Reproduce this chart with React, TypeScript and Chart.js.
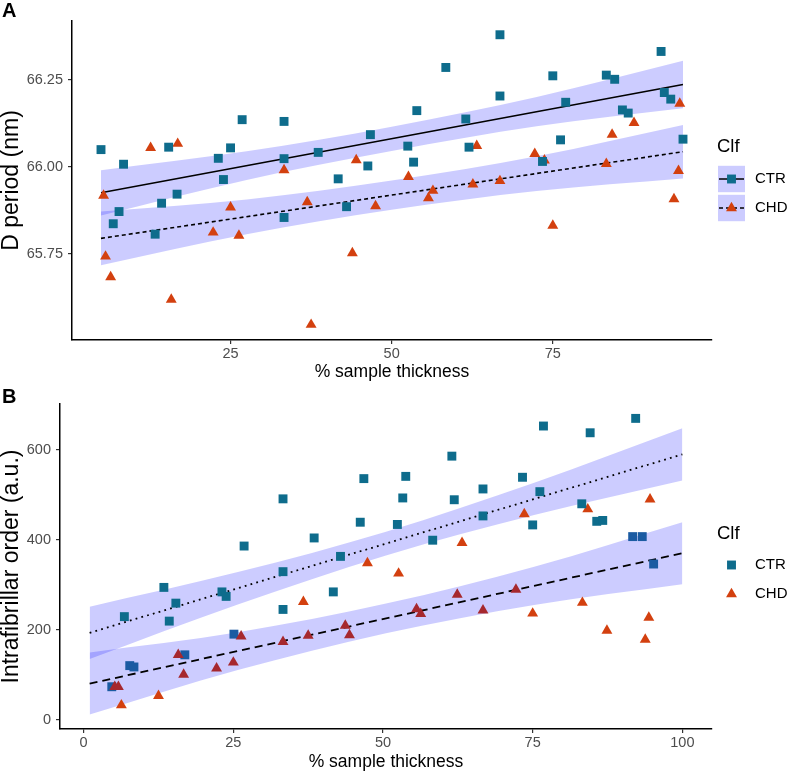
import React, { useEffect, useRef } from 'react';
import { Chart, registerables } from 'chart.js';

Chart.register(...registerables);

const FONT = "'Liberation Sans', Arial, Helvetica, sans-serif";

// ---------- Panel A : D period ----------
const ctrA_x = [4.9, 6.8, 7.7, 8.4, 13.3, 14.3, 15.4, 16.7, 23.1, 23.9, 25.0, 26.8, 33.3, 33.3, 33.3, 38.6, 41.7, 43.0, 46.3, 46.7, 52.5, 53.4, 53.9, 58.4, 61.5, 62.0, 66.8, 66.8, 73.4, 75.0, 76.2, 77.0, 83.3, 84.6, 85.8, 86.7, 91.8, 92.3, 93.3, 95.2];
const ctrA_y = [66.050, 65.837, 65.872, 66.008, 65.807, 65.896, 66.057, 65.922, 66.025, 65.964, 66.055, 66.136, 66.131, 66.024, 65.855, 66.042, 65.966, 65.886, 66.003, 66.093, 66.060, 66.014, 66.162, 66.286, 66.138, 66.057, 66.380, 66.204, 66.016, 66.262, 66.078, 66.186, 66.264, 66.252, 66.164, 66.155, 66.332, 66.214, 66.195, 66.080];
const chdA_x = [5.3, 5.6, 6.4, 12.6, 15.8, 16.8, 22.3, 25.0, 26.3, 33.3, 36.9, 37.5, 43.9, 44.5, 47.5, 52.6, 55.7, 56.4, 62.6, 63.2, 66.8, 72.2, 73.7, 75.0, 83.3, 84.2, 87.6, 93.8, 94.5, 94.7];
const chdA_y = [65.918, 65.743, 65.684, 66.055, 65.619, 66.067, 65.812, 65.884, 65.803, 65.991, 65.899, 65.547, 65.753, 66.020, 65.888, 65.972, 65.911, 65.932, 65.950, 66.061, 65.960, 66.038, 66.019, 65.832, 66.009, 66.093, 66.127, 65.908, 65.989, 66.182];
const fitA_x = [4.9, 95.2];
const ctrA_fit = [65.926, 66.237];
const chdA_fit = [65.795, 66.044];
const bandA_x = [4.9, 27.5, 50, 72.5, 95.2];
const ctrA_upper = [65.991, 66.045, 66.116, 66.201, 66.305];
const ctrA_lower = [65.861, 65.963, 66.046, 66.117, 66.169];
const chdA_upper = [65.872, 65.907, 65.961, 66.031, 66.121];
const chdA_lower = [65.718, 65.807, 65.877, 65.931, 65.967];
const xTicksA = [25, 50, 75];
const yTicksA = [65.75, 66.0, 66.25];

// ---------- Panel B : Intrafibrillar order ----------
const ctrB_x = [6.8, 13.4, 14.3, 15.4, 23.1, 23.8, 26.8, 33.3, 33.3, 33.3, 38.5, 41.7, 42.9, 46.2, 46.8, 52.4, 53.3, 53.8, 58.3, 61.5, 61.9, 66.7, 66.7, 73.3, 75.0, 76.2, 76.8, 83.2, 84.6, 85.7, 86.7, 92.2];
const ctrB_y = [229, 294, 219, 259, 284, 274, 386, 491, 329, 245, 404, 284, 363, 439, 536, 434, 493, 541, 399, 586, 489, 513, 453, 539, 433, 507, 653, 480, 638, 441, 443, 670];
const ctrB2_x = [4.7, 7.7, 8.4, 16.9, 25.1, 91.7, 93.3, 95.2];
const ctrB2_y = [73, 120, 117, 144, 190, 407, 407, 346];
const chdB_x = [6.3, 12.5, 36.7, 47.4, 52.6, 63.2, 73.6, 75.0, 83.3, 84.2, 87.4, 93.8, 94.4, 94.6];
const chdB_y = [32, 53, 262, 348, 325, 393, 457, 236, 260, 468, 198, 178, 227, 490];
const chdB2_x = [5.2, 5.8, 15.8, 16.7, 22.2, 25.0, 26.3, 33.3, 37.5, 43.7, 44.4, 55.6, 56.3, 62.4, 66.7, 72.2];
const chdB2_y = [73, 73, 144, 100, 114, 127, 185, 173, 187, 209, 188, 246, 235, 278, 243, 289];
const fitB_x = [1, 100];
const ctrB_fit = [193, 590];
const chdB_fit = [80, 370];
const bandB_x = [1, 25.75, 50.5, 75.25, 100];
const ctrB_upper = [251, 328, 418, 527, 648];
const ctrB_lower = [135, 256, 365, 455, 532];
const chdB_upper = [149, 194, 258, 340, 439];
const chdB_lower = [11, 110, 192, 255, 301];
const xTicksB = [0, 25, 50, 75, 100];
const yTicksB = [0, 200, 400, 600];

const seriesNames = ['CTR', 'CHD'];

const TEAL = '#0E6C8C';
const ORANGE = '#D3400F';
const DARKBLUE = '#1B5BA2';
const DARKRED = '#A6282E';
const BAND = 'rgba(0,0,255,0.2)';
const R = 6.3;

const pts = (xs: number[], ys: number[]) => xs.map((x, i) => ({ x, y: ys[i] }));

function drawMarker(ctx: CanvasRenderingContext2D, style: string, x: number, y: number, color: string, r = R) {
  ctx.save();
  ctx.fillStyle = color;
  ctx.beginPath();
  if (style === 'rect') {
    const s = r * Math.SQRT1_2;
    ctx.rect(x - s, y - s, 2 * s, 2 * s);
  } else {
    let a = 0;
    ctx.moveTo(x + Math.sin(a) * r, y - Math.cos(a) * r);
    a += (2 * Math.PI) / 3;
    ctx.lineTo(x + Math.sin(a) * r, y - Math.cos(a) * r);
    a += (2 * Math.PI) / 3;
    ctx.lineTo(x + Math.sin(a) * r, y - Math.cos(a) * r);
    ctx.closePath();
  }
  ctx.fill();
  ctx.restore();
}

const bandSet = (xs: number[], ys: number[], fill: any) => ({
  data: pts(xs, ys),
  showLine: true,
  borderWidth: 0,
  borderColor: 'rgba(0,0,0,0)',
  backgroundColor: BAND,
  pointRadius: 0,
  fill,
  cubicInterpolationMode: 'monotone',
  order: 3,
});

const lineSet = (xs: number[], ys: number[], dash: number[], width: number) => ({
  data: pts(xs, ys),
  showLine: true,
  borderColor: '#000',
  borderWidth: width,
  borderDash: dash,
  pointRadius: 0,
  fill: false,
  order: 2,
});

const pointSet = (xs: number[], ys: number[], style: string, color: string, order = 1) => ({
  data: pts(xs, ys),
  showLine: false,
  pointStyle: style,
  pointRadius: R,
  pointBackgroundColor: color,
  pointBorderColor: color,
  pointBorderWidth: 0,
  order,
});

function scaleX(min: number, max: number, ticks: number[], height: number, titlePad: number) {
  return {
    type: 'linear',
    min,
    max,
    afterBuildTicks: (s: any) => { s.ticks = ticks.map((v) => ({ value: v })); },
    afterFit: (s: any) => { s.height = height; },
    grid: { display: true, drawOnChartArea: false, drawTicks: true, tickLength: 4, color: '#333', lineWidth: 1.2 },
    border: { display: true, color: '#000', width: 1.5 },
    ticks: { color: '#4D4D4D', font: { family: FONT, size: 14.5 }, padding: 1.5, maxRotation: 0, autoSkip: false },
    title: { display: true, text: '% sample thickness', color: '#000', font: { family: FONT, size: 17.5, lineHeight: 1.2 }, padding: { top: 0, bottom: titlePad } },
  };
}

function scaleY(min: number, max: number, ticks: number[], width: number, text: string, fmt: (v: number) => string) {
  return {
    type: 'linear',
    min,
    max,
    afterBuildTicks: (s: any) => { s.ticks = ticks.map((v) => ({ value: v })); },
    afterFit: (s: any) => { s.width = width; },
    grid: { display: true, drawOnChartArea: false, drawTicks: true, tickLength: 4, color: '#333', lineWidth: 1.2 },
    border: { display: true, color: '#000', width: 1.5 },
    ticks: { color: '#4D4D4D', font: { family: FONT, size: 14.5 }, padding: 5, callback: (v: any) => fmt(Number(v)) },
    title: { display: true, text, color: '#000', font: { family: FONT, size: 23, lineHeight: 1.05 }, padding: { top: 0, bottom: 0 } },
  };
}

function decorPlugin(label: string, labelY: number, legendTitleY: number, rows: number[], withKeyFill: boolean) {
  return {
    id: 'decor' + label,
    afterDraw(chart: any) {
      const ctx: CanvasRenderingContext2D = chart.ctx;
      ctx.save();
      ctx.fillStyle = '#000';
      ctx.font = `bold 20px ${FONT}`;
      ctx.textBaseline = 'alphabetic';
      ctx.textAlign = 'left';
      ctx.fillText(label, 2, labelY);
      ctx.font = `18.5px ${FONT}`;
      ctx.textBaseline = 'middle';
      ctx.fillText('Clf', 717, legendTitleY);
      rows.forEach((cy, i) => {
        const style = i === 0 ? 'rect' : 'triangle';
        const color = i === 0 ? TEAL : ORANGE;
        if (withKeyFill) {
          ctx.fillStyle = BAND;
          ctx.fillRect(718, cy - 13.2, 27, 26.4);
          ctx.strokeStyle = '#000';
          ctx.lineWidth = 1.5;
          ctx.setLineDash(i === 0 ? [] : [4, 3]);
          ctx.beginPath();
          ctx.moveTo(719, cy);
          ctx.lineTo(744, cy);
          ctx.stroke();
          ctx.setLineDash([]);
        }
        drawMarker(ctx, style, 731.5, cy, color);
        ctx.fillStyle = '#000';
        ctx.font = `15px ${FONT}`;
        ctx.textBaseline = 'middle';
        ctx.fillText(seriesNames[i], 755, cy);
      });
      ctx.restore();
    },
  };
}

export default function App() {
  const refA = useRef<HTMLCanvasElement>(null);
  const refB = useRef<HTMLCanvasElement>(null);

  useEffect(() => {
    const common = {
      responsive: false,
      animation: false,
      devicePixelRatio: 1,
      events: [],
      plugins: { legend: { display: false }, tooltip: { enabled: false }, title: { display: false }, filler: { drawTime: 'beforeDatasetsDraw' } },
    };

    const chartA = new Chart(refA.current as HTMLCanvasElement, {
      type: 'scatter',
      data: {
        datasets: [
          pointSet(ctrA_x, ctrA_y, 'rect', TEAL),
          pointSet(chdA_x, chdA_y, 'triangle', ORANGE),
          lineSet(fitA_x, ctrA_fit, [], 1.6),
          lineSet(fitA_x, chdA_fit, [4, 3], 1.6),
          bandSet(bandA_x, ctrA_upper, '+1'),
          bandSet(bandA_x, ctrA_lower, false),
          bandSet(bandA_x, chdA_upper, '+1'),
          bandSet(bandA_x, chdA_lower, false),
        ] as any,
      },
      options: {
        ...common,
        layout: { padding: { top: 21, right: 75, bottom: 0, left: 0 } },
        scales: {
          x: scaleX(0.4, 99.7, xTicksA, 45, 2.5),
          y: scaleY(65.503, 66.4195, yTicksA, 72, 'D period (nm)', (v) => v.toFixed(2)),
        },
      } as any,
      plugins: [decorPlugin('A', 17, 147, [179, 208], true)],
    });

    const chartB = new Chart(refB.current as HTMLCanvasElement, {
      type: 'scatter',
      data: {
        datasets: [
          pointSet(ctrB_x, ctrB_y, 'rect', TEAL),
          pointSet(chdB_x, chdB_y, 'triangle', ORANGE),
          pointSet(chdB2_x, chdB2_y, 'triangle', DARKRED),
          pointSet(ctrB2_x, ctrB2_y, 'rect', DARKBLUE),
          lineSet(fitB_x, ctrB_fit, [1.8, 4.2], 1.8),
          lineSet(fitB_x, chdB_fit, [8, 5], 1.8),
          bandSet(bandB_x, ctrB_upper, '+1'),
          bandSet(bandB_x, ctrB_lower, false),
          bandSet(bandB_x, chdB_upper, '+1'),
          bandSet(bandB_x, chdB_lower, false),
        ] as any,
      },
      options: {
        ...common,
        layout: { padding: { top: 19, right: 75, bottom: 0, left: 0 } },
        scales: {
          x: scaleX(-3.95, 104.95, xTicksB, 44, 0.5),
          y: scaleY(-21, 702, yTicksB, 60, 'Intrafibrillar order (a.u.)', (v) => String(Math.round(v))),
        },
      } as any,
      plugins: [decorPlugin('B', 18, 149, [180, 209], false)],
    });

    return () => {
      chartA.destroy();
      chartB.destroy();
    };
  }, []);

  return (
    <div style={{ position: 'absolute', left: 0, top: 0, width: 787, height: 773, background: '#fff' }}>
      <canvas ref={refA} width={787} height={385} style={{ position: 'absolute', left: 0, top: 0, width: 787, height: 385, display: 'block' }} />
      <canvas ref={refB} width={787} height={388} style={{ position: 'absolute', left: 0, top: 385, width: 787, height: 388, display: 'block' }} />
    </div>
  );
}
